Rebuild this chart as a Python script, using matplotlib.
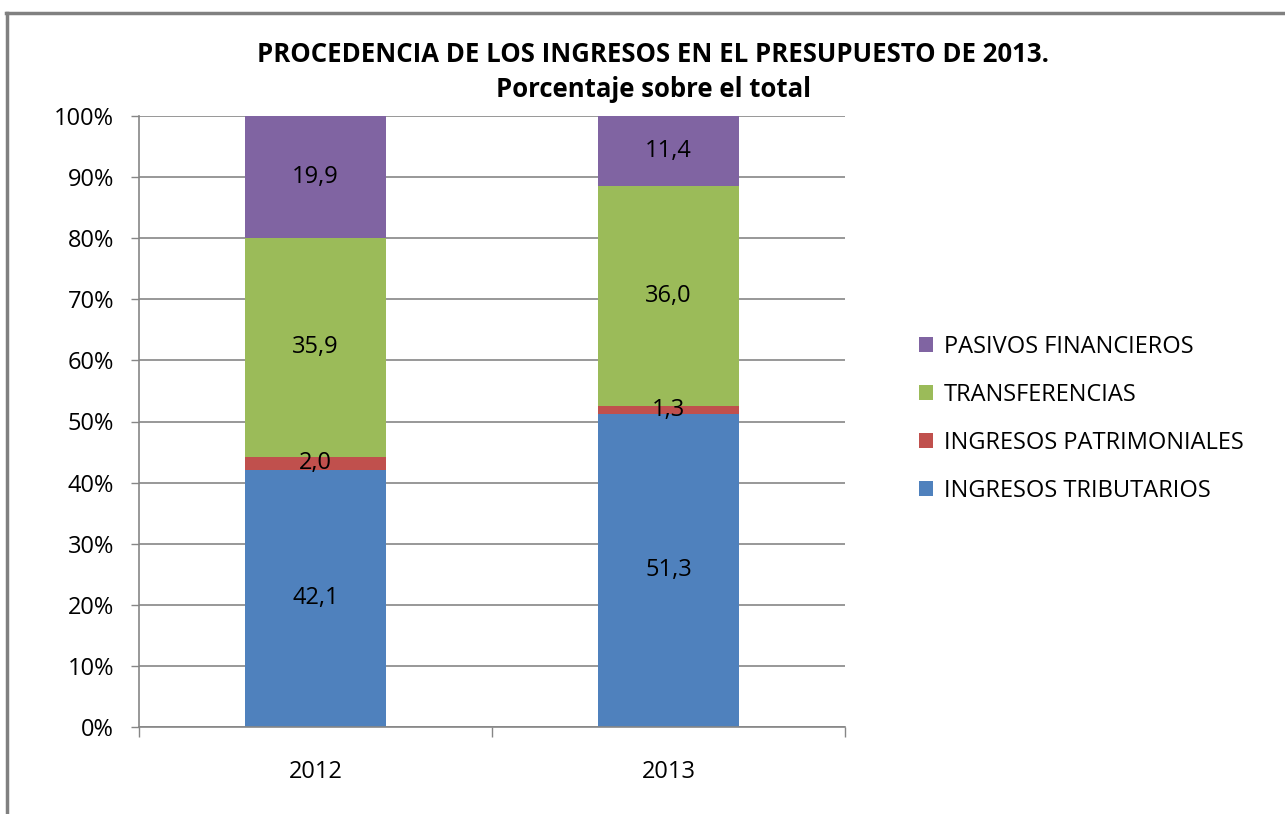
import matplotlib
matplotlib.use("Agg")
import matplotlib.pyplot as plt
from matplotlib.lines import Line2D
import numpy as np

categories = ["2012", "2013"]
series_names = ["INGRESOS TRIBUTARIOS", "INGRESOS PATRIMONIALES", "TRANSFERENCIAS", "PASIVOS FINANCIEROS"]
tributarios = [42.1, 51.3]
patrimoniales = [2.0, 1.3]
transferencias = [35.9, 36.0]
pasivos = [19.9, 11.4]
colors = ["#4F81BD", "#C0504D", "#9BBB59", "#8064A2"]
title = "PROCEDENCIA DE LOS INGRESOS EN EL PRESUPUESTO DE 2013.\nPorcentaje sobre el total"

plt.rcParams['font.family'] = ['Open Sans', 'DejaVu Sans']

fig = plt.figure(figsize=(12.85, 8.14), dpi=100)
ax = fig.add_axes([139/1285, 1-727/814, (845-139)/1285, (727-116)/814])

data = np.array([tributarios, patrimoniales, transferencias, pasivos])
totals = data.sum(axis=0)
pct = data / totals * 100
x = np.arange(len(categories))
bottom = np.zeros(len(categories))
for i, name in enumerate(series_names):
    ax.bar(x, pct[i], bottom=bottom, width=0.402, color=colors[i], label=name, zorder=2)
    for j in range(len(categories)):
        ax.text(x[j], bottom[j] + pct[i][j] / 2, f"{data[i][j]:.1f}".replace(".", ","),
                ha="center", va="center", fontsize=17, color="black", zorder=3)
    bottom += pct[i]

ax.set_xlim(-0.5, len(categories) - 0.5)
ax.set_ylim(0, 100)
ax.set_yticks(np.arange(0, 101, 10))
ax.set_yticklabels([f"{v}%" for v in range(0, 101, 10)], fontsize=17)
ax.set_xticks(x)
ax.set_xticklabels(categories, fontsize=17)
ax.set_xticks(np.arange(-0.5, len(categories)), minor=True)
ax.tick_params(axis="x", which="major", length=0, pad=24)
ax.tick_params(axis="x", which="minor", length=7.5, width=1, color="#868686", direction="out")
ax.tick_params(axis="y", length=6, width=1, color="#868686", pad=12)
ax.yaxis.grid(True, color="#868686", linewidth=1.2, zorder=0)
ax.set_axisbelow(True)
for s in ["top", "right"]:
    ax.spines[s].set_visible(False)
for s in ["left", "bottom"]:
    ax.spines[s].set_color("#868686")
    ax.spines[s].set_linewidth(1.2)

fig.text(653/1285, 1-72/814, title, ha="center", va="center", fontsize=18.5,
         fontweight="bold", linespacing=1.38)

handles, labels = ax.get_legend_handles_labels()
leg = fig.legend(handles[::-1], labels[::-1], loc="center left",
                 bbox_to_anchor=(898/1285, 1-419/814), frameon=False, fontsize=17,
                 handlelength=0.6, handleheight=0.6, handletextpad=0.45, labelspacing=1.02)

fig.add_artist(Line2D([7/1285, 7/1285], [0, 1-13/814], transform=fig.transFigure,
                      color="#808080", linewidth=2.5))
fig.add_artist(Line2D([6/1285, 1], [1-13/814, 1-13/814], transform=fig.transFigure,
                      color="#808080", linewidth=2.5))

fig.savefig("out.png", dpi=100)
